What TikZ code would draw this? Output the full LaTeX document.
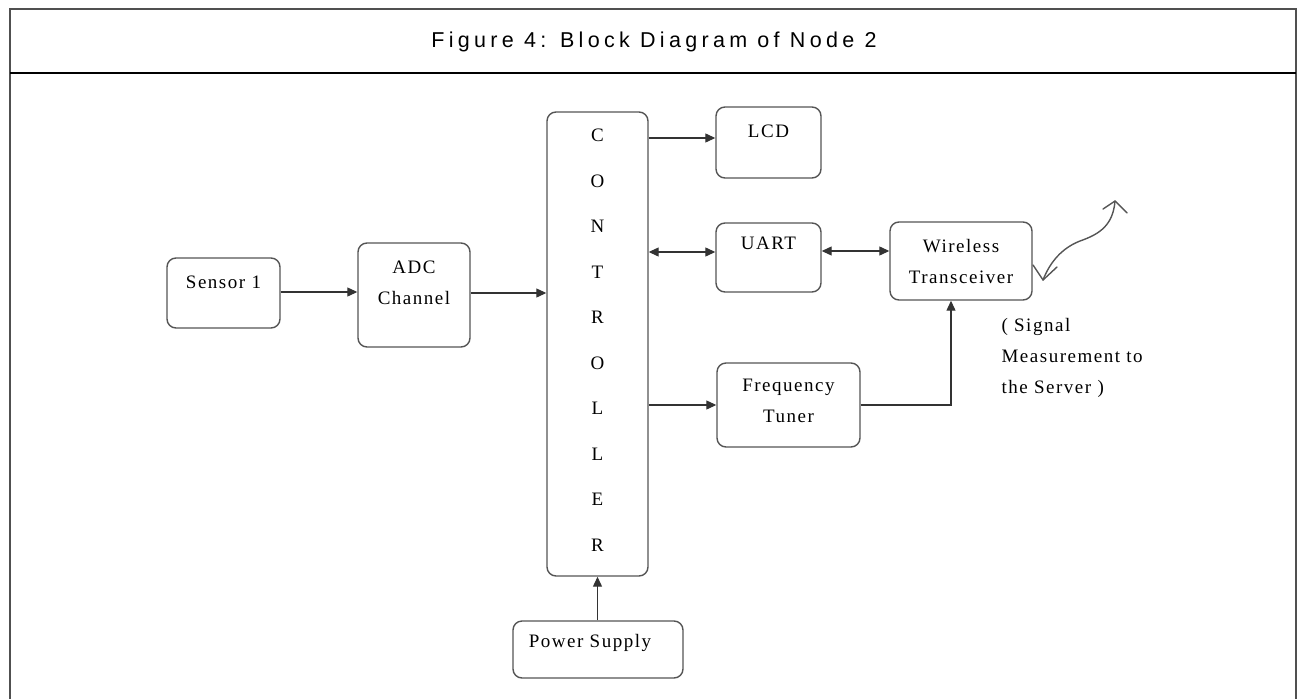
\documentclass[tikz,border=0pt]{standalone}
\usepackage{fontspec}
\setmainfont{Liberation Serif}[LetterSpace=8]
\newfontfamily\titlefont{Liberation Sans}[LetterSpace=20]
\usetikzlibrary{arrows.meta}
\definecolor{boxgray}{HTML}{555555}
\definecolor{linegray}{HTML}{333333}
\definecolor{framegray}{HTML}{505050}
\begin{document}
\begin{tikzpicture}[x=1pt,y=-1pt,
  box/.style={draw=boxgray, line width=1.4pt, rounded corners=9pt, inner sep=0pt},
  lbl/.style={font=\fontsize{19}{31}\selectfont, align=center, text=black},
  arr/.style={draw=linegray, line width=1.2pt, -{Triangle[length=10pt,width=9pt]}},
  darr/.style={draw=linegray, line width=1.2pt, {Triangle[length=10pt,width=9pt]}-{Triangle[length=10pt,width=9pt]}},
  wave/.style={draw=boxgray, line width=1.4pt, line cap=round, line join=round}]
\useasboundingbox (0,0) rectangle (1298,699);
% frame
\draw[framegray, line width=2pt] (10,699) -- (10,9) -- (1296,9) -- (1296,699);
\draw[black, line width=2.5pt] (10,73) -- (1296,73);
\node[font=\titlefont\fontsize{21.5}{26}\selectfont] (title) at (654,42) {Figure 4: Block Diagram of Node 2};
% boxes
\node[box, minimum width=113pt, minimum height=70pt,
  label={[lbl,yshift=11pt]center:Sensor 1}] (sensor) at (223.5,293) {};
\node[box, minimum width=112pt, minimum height=104pt,
  label={[lbl,yshift=12.5pt]center:ADC\\Channel}] (adc) at (414,295) {};
\node[box, minimum width=101pt, minimum height=464pt,
  label={[lbl,font=\fontsize{19}{45.5}\selectfont,yshift=4pt]center:C\\O\\N\\T\\R\\O\\L\\L\\E\\R}] (ctrl) at (597.5,344) {};
\node[box, minimum width=105pt, minimum height=71pt,
  label={[lbl,yshift=11.5pt]center:LCD}] (lcd) at (768.5,142.5) {};
\node[box, minimum width=105pt, minimum height=69pt,
  label={[lbl,yshift=14.5pt]center:UART}] (uart) at (768.5,257.5) {};
\node[box, minimum width=143pt, minimum height=84pt,
  label={[lbl,yshift=4pt]center:Frequency\\Tuner}] (freq) at (788.5,405) {};
\node[box, minimum width=142pt, minimum height=78pt,
  label={[lbl]center:Wireless\\Transceiver}] (wl) at (961,261) {};
\node[box, minimum width=170pt, minimum height=57pt,
  label={[lbl,yshift=6.5pt,xshift=-8pt]center:Power Supply}] (power) at (598,649.5) {};
\node[lbl, align=left, anchor=west] (signal) at (998,358) {( Signal\\Measurement to\\the Server )};
% connectors
\draw[arr] (sensor.east |- 0,292) -- (adc.west |- 0,292);
\draw[arr] (adc.east |- 0,293) -- (ctrl.west |- 0,293);
\draw[arr] (ctrl.east |- 0,138) -- (lcd.west |- 0,138);
\draw[darr] (ctrl.east |- 0,252) -- (uart.west |- 0,252);
\draw[darr] (uart.east |- 0,251) -- (wl.west |- 0,251);
\draw[arr] (ctrl.east |- freq.west) -- (freq.west);
\coordinate (wlin) at ([xshift=-10pt]wl.south);
\draw[arr] (freq.east) -| (wlin);
\draw[arr] (power.north -| ctrl.south) -- (ctrl.south);
% antenna squiggle
\coordinate (antlow) at (1043,280);
\coordinate (anttop) at (1115,201);
\draw[wave] (antlow) .. controls (1050,262) and (1062,248) .. (1080,241)
  .. controls (1100,234) and (1113,225) .. (anttop);
\draw[wave] (1103,209) -- (anttop) -- (1127,213);
\draw[wave] (1033,265) -- (antlow) -- (1057,267);
\end{tikzpicture}
\end{document}
